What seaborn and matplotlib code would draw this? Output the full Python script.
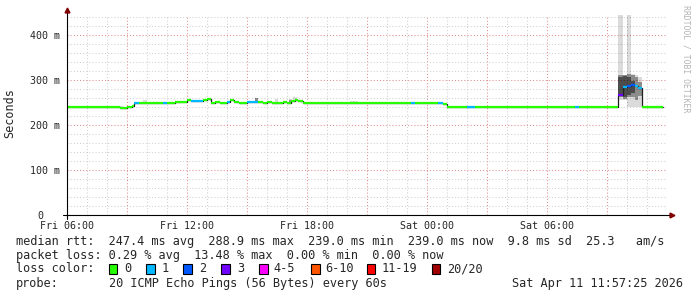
import numpy as np
import pandas as pd
import matplotlib
matplotlib.use("Agg")
import matplotlib.pyplot as plt
import seaborn as sns
from matplotlib.patches import Rectangle
from matplotlib.ticker import MultipleLocator

# ---------------- data ----------------
# median RTT segments: start hour (from Fri 00:00), median (ms), lost pings (of 20)
seg_start = [6.00, 8.65, 9.00, 9.25, 9.35, 9.60, 10.80, 11.00, 11.40, 12.00,
             12.20, 12.80, 13.00, 13.20, 13.40, 13.65, 13.98, 14.17, 14.35, 14.58,
             14.98, 15.57, 15.80, 16.00, 16.23, 16.82, 16.98, 17.18, 17.40, 17.57,
             17.82, 23.20, 23.40, 24.57, 24.82, 24.98, 25.98, 26.40, 31.40, 31.62,
             33.57, 33.78, 33.98, 34.18, 34.40, 34.57, 34.77]
seg_value = [239, 237.5, 240.5, 242, 249.5, 249.5, 249.5, 249.5, 252, 256,
             254, 256, 258.5, 249.5, 252, 249, 251, 256, 251, 249,
             251, 251, 249, 251, 249, 251, 249, 253, 256, 254,
             249.5, 249.5, 249.5, 249.5, 247, 239, 239, 239, 239, 239,
             267, 285, 287, 289, 287, 282, 239]
seg_loss = [0, 0, 0, 0, 1, 0, 1, 0, 0, 0,
            1, 0, 0, 0, 0, 0, 1, 0, 0, 0,
            1, 0, 0, 0, 0, 0, 0, 0, 0, 0,
            0, 1, 0, 1, 0, 0, 1, 0, 1, 0,
            3, 1, 2, 2, 1, 1, 0]
data_end = 35.78

# smoke (ping spread) columns: start, end, outer lo/hi, mid lo/hi, inner lo/hi (ms)
smoke_t0 = [6.55, 8.55, 9.78, 15.40, 16.40, 17.08, 17.32, 20.15, 25.15, 26.20, 30.98, 31.80,
            33.57, 33.78, 33.98, 34.18, 34.40, 34.57]
smoke_t1 = [6.80, 8.80, 9.98, 15.57, 16.55, 17.25, 17.50, 20.55, 25.40, 26.40, 31.18, 32.00,
            33.78, 33.98, 34.18, 34.40, 34.57, 34.77]
smoke_lo0 = [239, 239, 250, 251, 249, 249, 256, 250, 239, 239, 239, 239, 255, 255, 239, 239, 240, 240]
smoke_hi0 = [242, 243, 255, 260, 257, 257, 262, 254, 242, 242, 243, 242, 445, 312, 445, 313, 310, 306]
smoke_lo1 = [np.nan] * 3 + [253] + [np.nan] + [251] + [np.nan] * 6 + [262, 258, 262, 262, 256, 265]
smoke_hi1 = [np.nan] * 3 + [259] + [np.nan] + [256] + [np.nan] * 6 + [310, 311, 313, 310, 306, 295]
smoke_lo2 = [np.nan] * 12 + [264, 262, 266, 272, np.nan, np.nan]
smoke_hi2 = [np.nan] * 12 + [306, 308, 306, 298, np.nan, np.nan]

x_ticks = [6, 12, 18, 24, 30]
x_tick_labels = ["Fri 06:00", "Fri 12:00", "Fri 18:00", "Sat 00:00", "Sat 06:00"]
y_ticks = [0, 100, 200, 300, 400]
y_tick_labels = ["0", "100 m", "200 m", "300 m", "400 m"]

loss_labels = ["0", "1", "2", "3", "4-5", "6-10", "11-19", "20/20"]
loss_colors = ["#26ff00", "#00b8ff", "#0059ff", "#7000ff", "#ff00ff", "#ff5500", "#ff0000", "#a00000"]

legend_rtt = "median rtt:  247.4 ms avg  288.9 ms max  239.0 ms min  239.0 ms now  9.8 ms sd  25.3   am/s"
legend_loss = "packet loss: 0.29 % avg  13.48 % max  0.00 % min  0.00 % now"
probe_text = "20 ICMP Echo Pings (56 Bytes) every 60s"
stamp_text = "Sat Apr 11 11:57:25 2026"
watermark = "RRDTOOL / TOBI OETIKER"


def loss_index(n):
    if n <= 3:
        return n
    if n <= 5:
        return 4
    if n <= 10:
        return 5
    if n <= 19:
        return 6
    return 7


# ---------------- figure ----------------
sns.set_style("white")
MONO = "DejaVu Sans Mono"
plt.rcParams["font.family"] = [MONO]
W, H = 697, 297
fig = plt.figure(figsize=(W / 100, H / 100), dpi=100)
fig.patch.set_facecolor("white")
ax = fig.add_axes([67 / W, (H - 215) / H, 600 / W, 200 / H])
ax.set_xlim(6, 36)
ax.set_ylim(0, 444.4)
for s in ax.spines.values():
    s.set_visible(False)

# grid
dot = (0, (1, 2))
ax.xaxis.set_minor_locator(MultipleLocator(1))
ax.yaxis.set_minor_locator(MultipleLocator(20))
ax.set_xticks(np.arange(6, 36.01, 3))
ax.set_xticklabels([x_tick_labels[x_ticks.index(t)] if t in x_ticks else "" for t in np.arange(6, 36.01, 3)])
ax.set_yticks(y_ticks)
ax.set_yticklabels(y_tick_labels)
ax.grid(which="minor", color="#d0d0d0", linestyle=dot, linewidth=0.75)
ax.grid(which="major", color="#e08c8c", linestyle=dot, linewidth=0.75)
ax.set_axisbelow(True)
ax.tick_params(axis="x", which="major", length=2, color="#e08c8c", pad=2, labelsize=7.2)
ax.tick_params(axis="x", which="minor", length=0)
ax.tick_params(axis="y", which="both", length=0, pad=5, labelsize=7.2)
for lab in ax.get_yticklabels():
    if lab.get_text() == "0":
        lab.set_x(-17 / 600)

# smoke
a0, a1, a2 = 0.14, 0.36, 0.45
for i in range(len(smoke_t0)):
    w = smoke_t1[i] - smoke_t0[i]
    for lo, hi, a in ((smoke_lo0[i], smoke_hi0[i], a0), (smoke_lo1[i], smoke_hi1[i], a1),
                      (smoke_lo2[i], smoke_hi2[i], a2)):
        if np.isnan(lo):
            continue
        ax.bar(smoke_t0[i], hi - lo, bottom=lo, width=w, align="edge", color="black",
               alpha=a, linewidth=0, zorder=2)

# median: black step line + loss coloured segments
df = pd.DataFrame({"t": seg_start + [data_end], "v": seg_value + [seg_value[-1]]})
sns.lineplot(data=df, x="t", y="v", drawstyle="steps-post", estimator=None, sort=False,
             color="#202020", linewidth=0.9, ax=ax, zorder=3)
seg_end = seg_start[1:] + [data_end]
for t0, t1, v, n in zip(seg_start, seg_end, seg_value, seg_loss):
    ax.hlines(v, t0, t1, color=loss_colors[loss_index(n)], linewidth=1.6, zorder=4)
ax.set_xlabel("")
ax.set_ylabel("")

# axes with arrows
ax.plot([-4 / 600, 1 + 4 / 600], [0, 0], color="black", lw=0.8, transform=ax.transAxes, clip_on=False, zorder=5)
ax.plot([0, 0], [-4 / 200, 1 + 4 / 200], color="black", lw=0.8, transform=ax.transAxes, clip_on=False, zorder=5)
ax.plot([1 + 5 / 600], [0], marker=">", color="#800000", ms=3.5, transform=ax.transAxes, clip_on=False, zorder=6)
ax.plot([0], [1 + 5 / 200], marker="^", color="#800000", ms=3.5, transform=ax.transAxes, clip_on=False, zorder=6)

# texts


def fx(px):
    return px / W


def fy(py):
    return 1 - py / H


fig.text(fx(10), fy(113), "Seconds", rotation=90, ha="center", va="center", fontsize=8.5)
fig.text(fx(686), fy(59), watermark, rotation=-90, ha="center", va="center", fontsize=5.9, color="#b4b4b4")
LF = 8.55
fig.text(fx(16), fy(241), legend_rtt, ha="left", va="center", fontsize=LF)
fig.text(fx(16), fy(256), legend_loss, ha="left", va="center", fontsize=LF)
fig.text(fx(16), fy(269), "loss color:", ha="left", va="center", fontsize=LF)
box_x = [108.6, 146, 183, 221, 259, 311, 367, 432]
lab_x = [124, 162, 199, 237, 273, 325, 382, 447]
for bx, lx, lab, col in zip(box_x, lab_x, loss_labels, loss_colors):
    fig.patches.append(Rectangle((fx(bx), fy(274)), 8.5 / W, 10 / H, transform=fig.transFigure,
                                 facecolor=col, edgecolor="black", linewidth=0.8))
    fig.text(fx(lx), fy(269), lab, ha="left", va="center", fontsize=LF)
fig.text(fx(16), fy(284), "probe:", ha="left", va="center", fontsize=LF)
fig.text(fx(108.6), fy(284), probe_text, ha="left", va="center", fontsize=LF)
fig.text(fx(683), fy(284), stamp_text, ha="right", va="center", fontsize=LF)

fig.savefig("out.png", dpi=100, facecolor="white")
